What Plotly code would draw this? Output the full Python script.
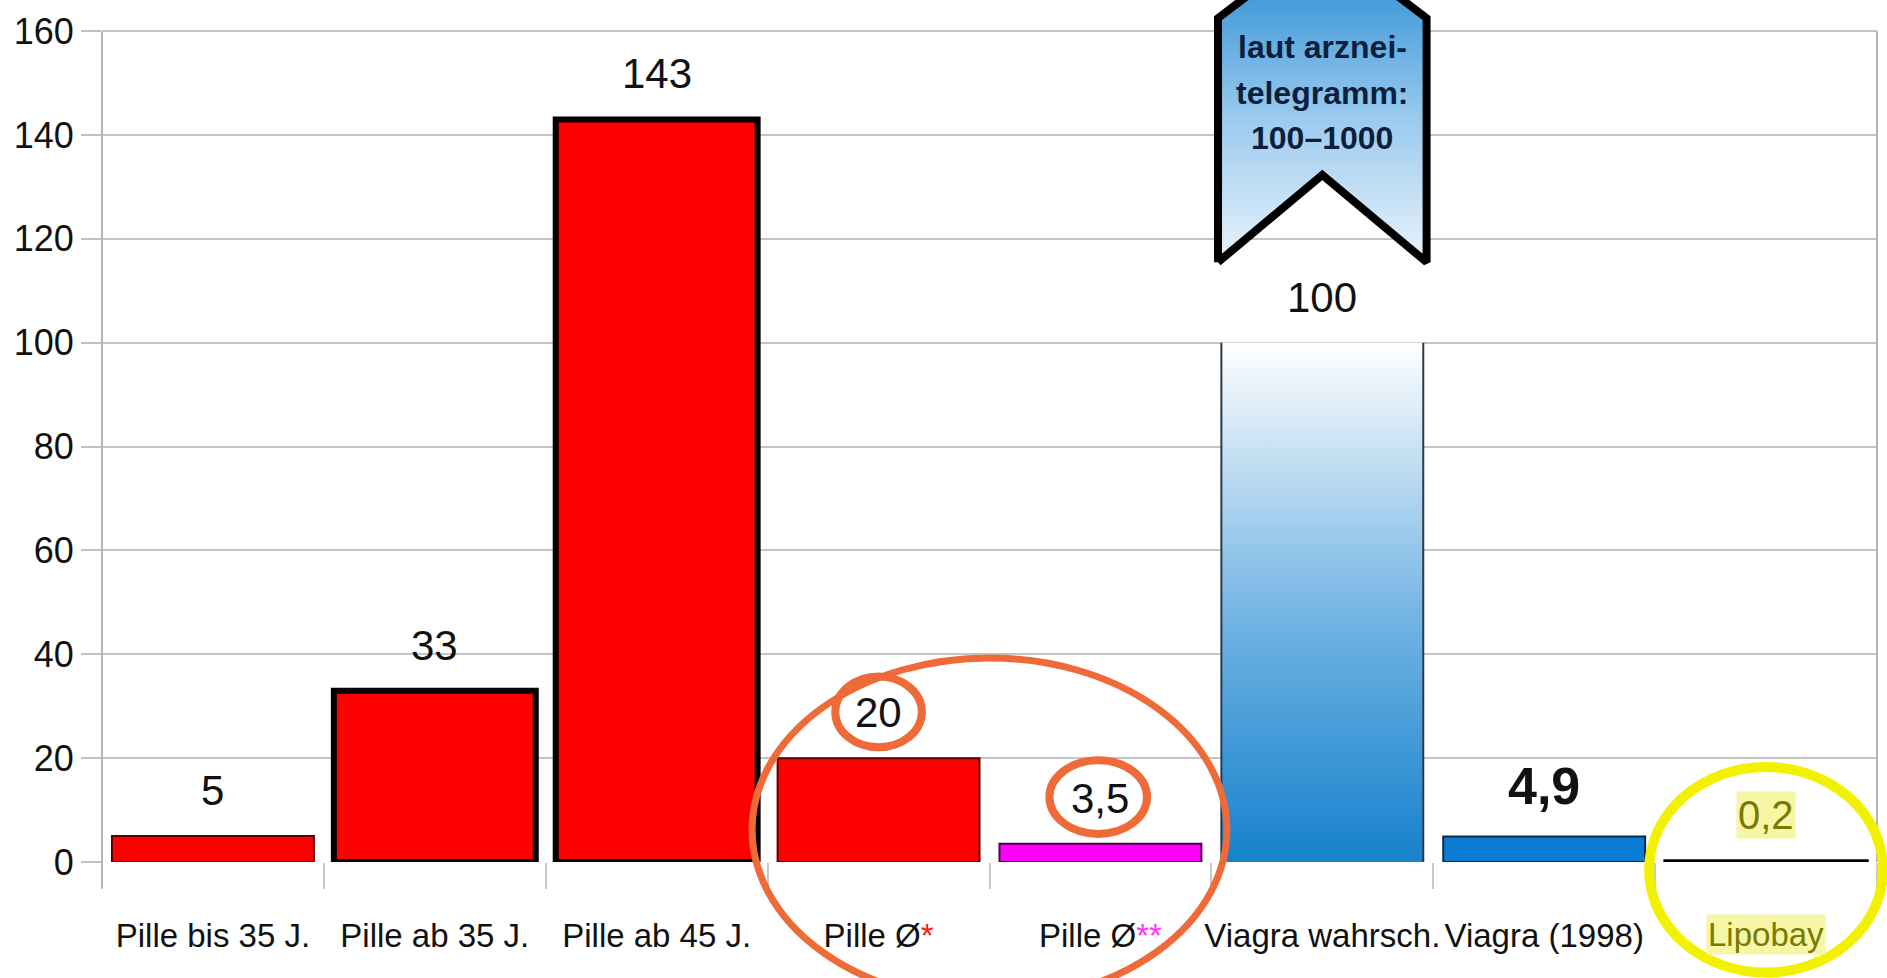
import plotly.graph_objects as go

# ---------------- data ----------------
categories = ["Pille bis 35 J.", "Pille ab 35 J.", "Pille ab 45 J.", "Pille Ø*",
              "Pille Ø**", "Viagra wahrsch.", "Viagra (1998)", "Lipobay"]
values = [5, 33, 143, 20, 3.5, 100, 4.9, 0.2]
value_labels = ["5", "33", "143", "20", "3,5", "100", "4,9", "0,2"]
tick_labels = ["Pille bis 35 J.", "Pille ab 35 J.", "Pille ab 45 J.",
               "Pille Ø<span style='color:#ff1a1a'>*</span>",
               "Pille Ø<span style='color:#ff33ff'>**</span>",
               "Viagra wahrsch.", "Viagra (1998)", ""]
highlight_label = "Lipobay"
y_ticks = [0, 20, 40, 60, 80, 100, 120, 140, 160]
ribbon_lines = ["laut arznei-", "telegramm:", "100–1000"]

# ---------------- styles ----------------
FONT = "Liberation Sans, Arial, sans-serif"
bar_fill = ["#ff0000", "#ff0000", "#ff0000", "#ff0000", "#ff00ff",
            "rgba(0,0,0,0)", "#0a7dd2", "#000000"]
bar_line_color = ["#5a0000", "#000000", "#000000", "#5a0000", "#4a004a",
                  "rgba(0,0,0,0)", "#0a2a50", "#000000"]
bar_line_width = [2, 6, 6, 2, 2, 0, 2, 3.5]
label_size = [42, 42, 42, 42, 42, 42, 52, 40]
label_bold = [False, False, False, False, False, False, True, False]
BAR_W = 0.91
Y_MAX = 166
N = len(categories)
PLOT_H = 862  # px height of plotting area

fig = go.Figure()

fig.add_trace(go.Bar(
    x=list(range(N)), y=values, width=BAR_W,
    marker=dict(color=bar_fill, line=dict(color=bar_line_color, width=bar_line_width)),
    hoverinfo="skip",
))

# gradient bar for "Viagra wahrsch."
gi = categories.index("Viagra wahrsch.")
gv = values[gi]
hw = BAR_W / 2
fig.add_trace(go.Scatter(
    x=[gi - hw, gi + hw, gi + hw, gi - hw, gi - hw],
    y=[0, 0, gv, gv, 0], mode="lines", fill="toself", line=dict(width=0),
    fillgradient=dict(type="vertical",
                      colorscale=[[0, "#1681cc"], [0.45, "#6db1e3"], [0.8, "#c9e2f4"], [1, "#ffffff"]]),
    hoverinfo="skip",
))
fig.add_trace(go.Scatter(
    x=[gi - hw, gi - hw, None, gi + hw, gi + hw],
    y=[0, gv, None, 0, gv], mode="lines",
    line=dict(color="#2a3a4a", width=2), hoverinfo="skip",
))

# ribbon above gradient bar
rw = 0.47
rb = gv + 15.5      # bottom corners
rn = gv + 32.3      # notch apex
rs = gv + 62.5      # shoulders
rt = gv + 70.0      # beyond top
fig.add_trace(go.Scatter(
    x=[gi - rw, gi - rw, gi - rw + 0.23, gi + rw - 0.23, gi + rw, gi + rw, gi, gi - rw],
    y=[rb, rs, rt, rt, rs, rb, rn, rb], mode="lines", fill="toself",
    line=dict(color="#000000", width=8),
    fillgradient=dict(type="vertical",
                      colorscale=[[0, "#e9f3fb"], [0.5, "#9ccbef"], [1, "#3894d6"]]),
    hoverinfo="skip",
))

annotations = []
ribbon_y = [156.9, 148.1, 139.4]
for txt, yy in zip(ribbon_lines, ribbon_y):
    annotations.append(dict(x=gi, y=yy, text="<b>" + txt + "</b>", showarrow=False,
                            xanchor="center", yanchor="middle",
                            font=dict(family=FONT, size=32, color="#0d1f3a")))

# value labels
for i, (v, t) in enumerate(zip(values, value_labels)):
    txt = "<b>" + t + "</b>" if label_bold[i] else t
    a = dict(x=i, y=v, text=txt, showarrow=False, xanchor="center", yanchor="bottom",
             yshift=20, font=dict(family=FONT, size=label_size[i], color="#111111"))
    if categories[i] == highlight_label:
        a["font"]["color"] = "#7a7a00"
        a["bgcolor"] = "#f6f6a6"
        a["yshift"] = 22
    annotations.append(a)

# Lipobay tick label with highlight
li = categories.index(highlight_label)
annotations.append(dict(x=li, xref="x", y=-73 / PLOT_H, yref="paper", text=highlight_label,
                        showarrow=False, xanchor="center", yanchor="middle",
                        bgcolor="#f6f6a6",
                        font=dict(family=FONT, size=33, color="#7a7a00")))

# helpers to convert data units to paper
def px_(x):
    return (x + 0.5) / N

def py_(y):
    return y / Y_MAX

shapes = []
# axis frame lines
shapes.append(dict(type="line", xref="paper", yref="paper", x0=0, x1=0,
                   y0=-26 / PLOT_H, y1=py_(160), line=dict(color="#b4b4b4", width=2)))
shapes.append(dict(type="line", xref="paper", yref="paper", x0=1, x1=1,
                   y0=0, y1=py_(160), line=dict(color="#b4b4b4", width=2)))

ORANGE = "#ee6a38"
def ellipse(cx, cy, rx, ry, color, width):
    return dict(type="circle", xref="paper", yref="paper",
                x0=px_(cx - rx), x1=px_(cx + rx), y0=py_(cy - ry), y1=py_(cy + ry),
                line=dict(color=color, width=width), layer="above")

i20 = categories.index("Pille Ø*")
i35 = categories.index("Pille Ø**")
shapes.append(ellipse((i20 + i35) / 2, 6.2, 1.07, 33.1, ORANGE, 7))
shapes.append(ellipse(i20, values[i20] + 8.9, 0.195, 6.8, ORANGE, 8))
shapes.append(ellipse(i35 - 0.01, values[i35] + 9.0, 0.22, 7.1, ORANGE, 8))
shapes.append(ellipse(li, -1.5, 0.527, 19.8, "#f2f200", 10))

fig.update_layout(
    width=1887, height=978,
    margin=dict(l=102, r=10, t=0, b=116),
    paper_bgcolor="white", plot_bgcolor="white",
    showlegend=False, bargap=0.09,
    font=dict(family=FONT, color="#111111"),
    annotations=annotations, shapes=shapes,
    xaxis=dict(range=[-0.5, N - 0.5], tickmode="array", tickvals=list(range(N)),
               ticktext=tick_labels, tickfont=dict(family=FONT, size=33, color="#111111"),
               tickangle=0, automargin=False,
               ticks="", showgrid=False, zeroline=False, showline=False,
               ticklabelstandoff=51,
               minor=dict(ticks="outside", tickmode="array",
                          tickvals=[i - 0.5 for i in range(N + 1)],
                          ticklen=26, tickwidth=1.5, tickcolor="#c8c8c8", showgrid=False)),
    yaxis=dict(range=[0, Y_MAX], tickmode="array", tickvals=y_ticks, automargin=False,
               ticks="outside", ticklen=20, tickwidth=2, tickcolor="#c0c0c0",
               showgrid=True, gridcolor="#c4c4c4", gridwidth=2,
               zeroline=False, showline=False,
               tickfont=dict(family=FONT, size=36, color="#111111")),
)

fig.write_html("out.html", config={"displayModeBar": False},
               post_script="document.body.style.margin='0';document.body.style.overflow='hidden';")
